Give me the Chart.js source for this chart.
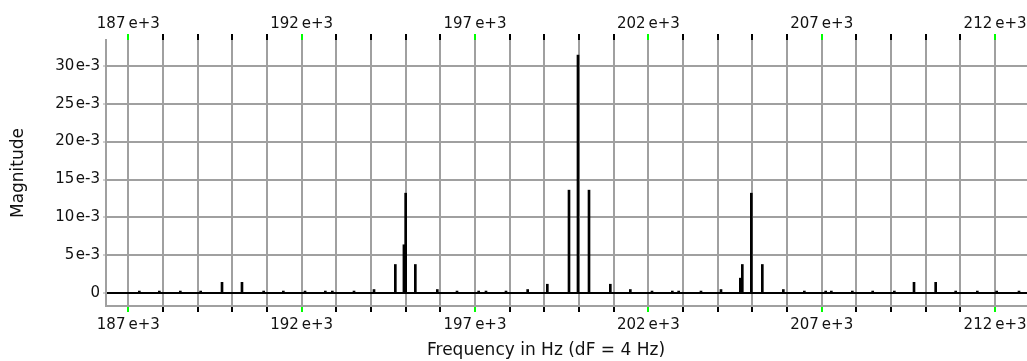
<!DOCTYPE html>
<html>
<head>
<meta charset="utf-8">
<script src="https://cdn.jsdelivr.net/npm/chart.js@4/dist/chart.umd.min.js"></script>
<style>
  html, body { margin: 0; padding: 0; background: #ffffff; }
  #wrap { width: 1027px; height: 361px; position: relative; }
</style>
</head>
<body>
<div id="wrap"><canvas id="c" width="1027" height="361"></canvas></div>
<script>
// ---- data ----
const frequencies = [
  187318, 187895, 188501, 189087, 189703, 190279, 190904, 191472, 192097, 192683,
  192885, 193510, 194087, 194702, 194950, 195000, 195279, 195913, 196481, 197106,
  197317, 197894, 198519, 199086, 199711, 199970, 200288, 200903, 201480, 202105,
  202691, 202874, 203518, 204095, 204653, 204710, 204970, 205287, 205893, 206499,
  207114, 207278, 207883, 208470, 209095, 209662, 210287, 210864, 211488, 212046,
  212690
];
const magnitudes = [
  0.0003, 0.0003, 0.0003, 0.0003, 0.00145, 0.00145, 0.0003, 0.0003, 0.0003, 0.0003,
  0.0003, 0.0003, 0.0005, 0.0038, 0.0064, 0.0132, 0.0038, 0.0005, 0.0003, 0.0003,
  0.0003, 0.0003, 0.0005, 0.0012, 0.0136, 0.0314, 0.0136, 0.0012, 0.0005, 0.0003,
  0.0003, 0.0003, 0.0003, 0.0005, 0.0020, 0.0038, 0.0132, 0.0038, 0.0005, 0.0003,
  0.0003, 0.0003, 0.0003, 0.0003, 0.0003, 0.00145, 0.00145, 0.0003, 0.0003, 0.0003,
  0.0003
];
const xTickValues = [
  187000, 188000, 189000, 190000, 191000, 192000, 193000, 194000, 195000, 196000,
  197000, 198000, 199000, 200000, 201000, 202000, 203000, 204000, 205000, 206000,
  207000, 208000, 209000, 210000, 211000, 212000
];
const xLabelValues = [187000, 192000, 197000, 202000, 207000, 212000];
const xTickLabels = ['187\u2009e+3', '192\u2009e+3', '197\u2009e+3', '202\u2009e+3', '207\u2009e+3', '212\u2009e+3'];
const yTickValues = [0, 0.005, 0.010, 0.015, 0.020, 0.025, 0.030];
const yTickLabels = ['0', '5\u200Ae-3', '10\u200Ae-3', '15\u200Ae-3', '20\u200Ae-3', '25\u200Ae-3', '30\u200Ae-3'];
const xMin = 186357, xMax = 212921;
const yMin = -0.00167, yMax = 0.03339;
const xTitle = 'Frequency in Hz (dF = 4 Hz)';
const yTitle = 'Magnitude';

// ---- styling ----
const GRID = '#a0a0a0';
const GREEN = '#00ff00';
const tickFont = { family: 'DejaVu Sans', size: 15 };
const titleFont = { family: 'DejaVu Sans', size: 17 };

function xLabel(v) {
  const i = xLabelValues.indexOf(v);
  return i >= 0 ? xTickLabels[i] : '';
}
function yLabel(v) {
  const i = yTickValues.indexOf(v);
  return i >= 0 ? yTickLabels[i] : '';
}
function tickColor(ctx) {
  return (ctx.tick && xLabelValues.indexOf(ctx.tick.value) >= 0) ? GREEN : '#000000';
}

// x-axis title drawn as canvas text, slightly left of the plot centre like the reference
const xTitlePlugin = {
  id: 'xTitle',
  afterDraw(chart) {
    const ctx = chart.ctx;
    ctx.save();
    ctx.font = titleFont.size + 'px "' + titleFont.family + '"';
    ctx.fillStyle = '#111';
    ctx.textAlign = 'center';
    ctx.textBaseline = 'middle';
    ctx.fillText(xTitle, 546, 351);
    ctx.restore();
  }
};

new Chart(document.getElementById('c'), {
  type: 'bar',
  data: {
    datasets: [{
      data: frequencies.map((f, i) => ({ x: f, y: magnitudes[i] })),
      backgroundColor: '#000000',
      borderWidth: 0,
      barThickness: 2,
      xAxisID: 'x',
      yAxisID: 'y'
    }]
  },
  options: {
    responsive: false,
    animation: false,
    events: [],
    layout: { padding: 0 },
    plugins: { legend: { display: false }, tooltip: { enabled: false } },
    scales: {
      x: {
        type: 'linear', position: 'bottom', min: xMin, max: xMax,
        offset: false,
        afterBuildTicks: s => { s.ticks = xTickValues.map(v => ({ value: v })); },
        afterFit: s => { s.height = 55; s.paddingLeft = 0; s.paddingRight = 0; },
        ticks: { autoSkip: false, maxRotation: 0, minRotation: 0, padding: 4,
                 color: '#111', font: tickFont, callback: v => xLabel(v) },
        grid: { offset: false, color: GRID, lineWidth: 2, tickLength: 6,
                tickColor: tickColor, tickWidth: 2 },
        border: { display: true, color: GRID, width: 2 },
        title: { display: false }
      },
      x2: {
        type: 'linear', position: 'top', min: xMin, max: xMax,
        offset: false,
        afterBuildTicks: s => { s.ticks = xTickValues.map(v => ({ value: v })); },
        afterFit: s => { s.height = 40; s.paddingLeft = 0; s.paddingRight = 0; },
        ticks: { autoSkip: false, maxRotation: 0, minRotation: 0, padding: 1,
                 color: '#111', font: tickFont, callback: v => xLabel(v) },
        grid: { offset: false, drawOnChartArea: false, drawTicks: true, tickLength: 6,
                tickColor: tickColor, tickWidth: 2, color: GRID, lineWidth: 2 },
        border: { display: false }
      },
      y: {
        type: 'linear', position: 'left', min: yMin, max: yMax,
        afterBuildTicks: s => { s.ticks = yTickValues.map(v => ({ value: v })); },
        afterFit: s => { s.width = 106; s.paddingTop = 0; s.paddingBottom = 0; },
        ticks: { autoSkip: false, padding: 3, color: '#111', font: tickFont,
                 callback: v => yLabel(v) },
        grid: { color: c => (c.tick && c.tick.value === 0) ? '#000000' : GRID,
                lineWidth: 2, tickLength: 3, tickColor: GRID, tickWidth: 1 },
        border: { display: true, color: GRID, width: 2 },
        title: { display: true, text: yTitle, color: '#111', font: titleFont,
                 padding: { top: 8, bottom: 0 } }
      }
    }
  },
  plugins: [xTitlePlugin]
});
</script>
</body>
</html>
